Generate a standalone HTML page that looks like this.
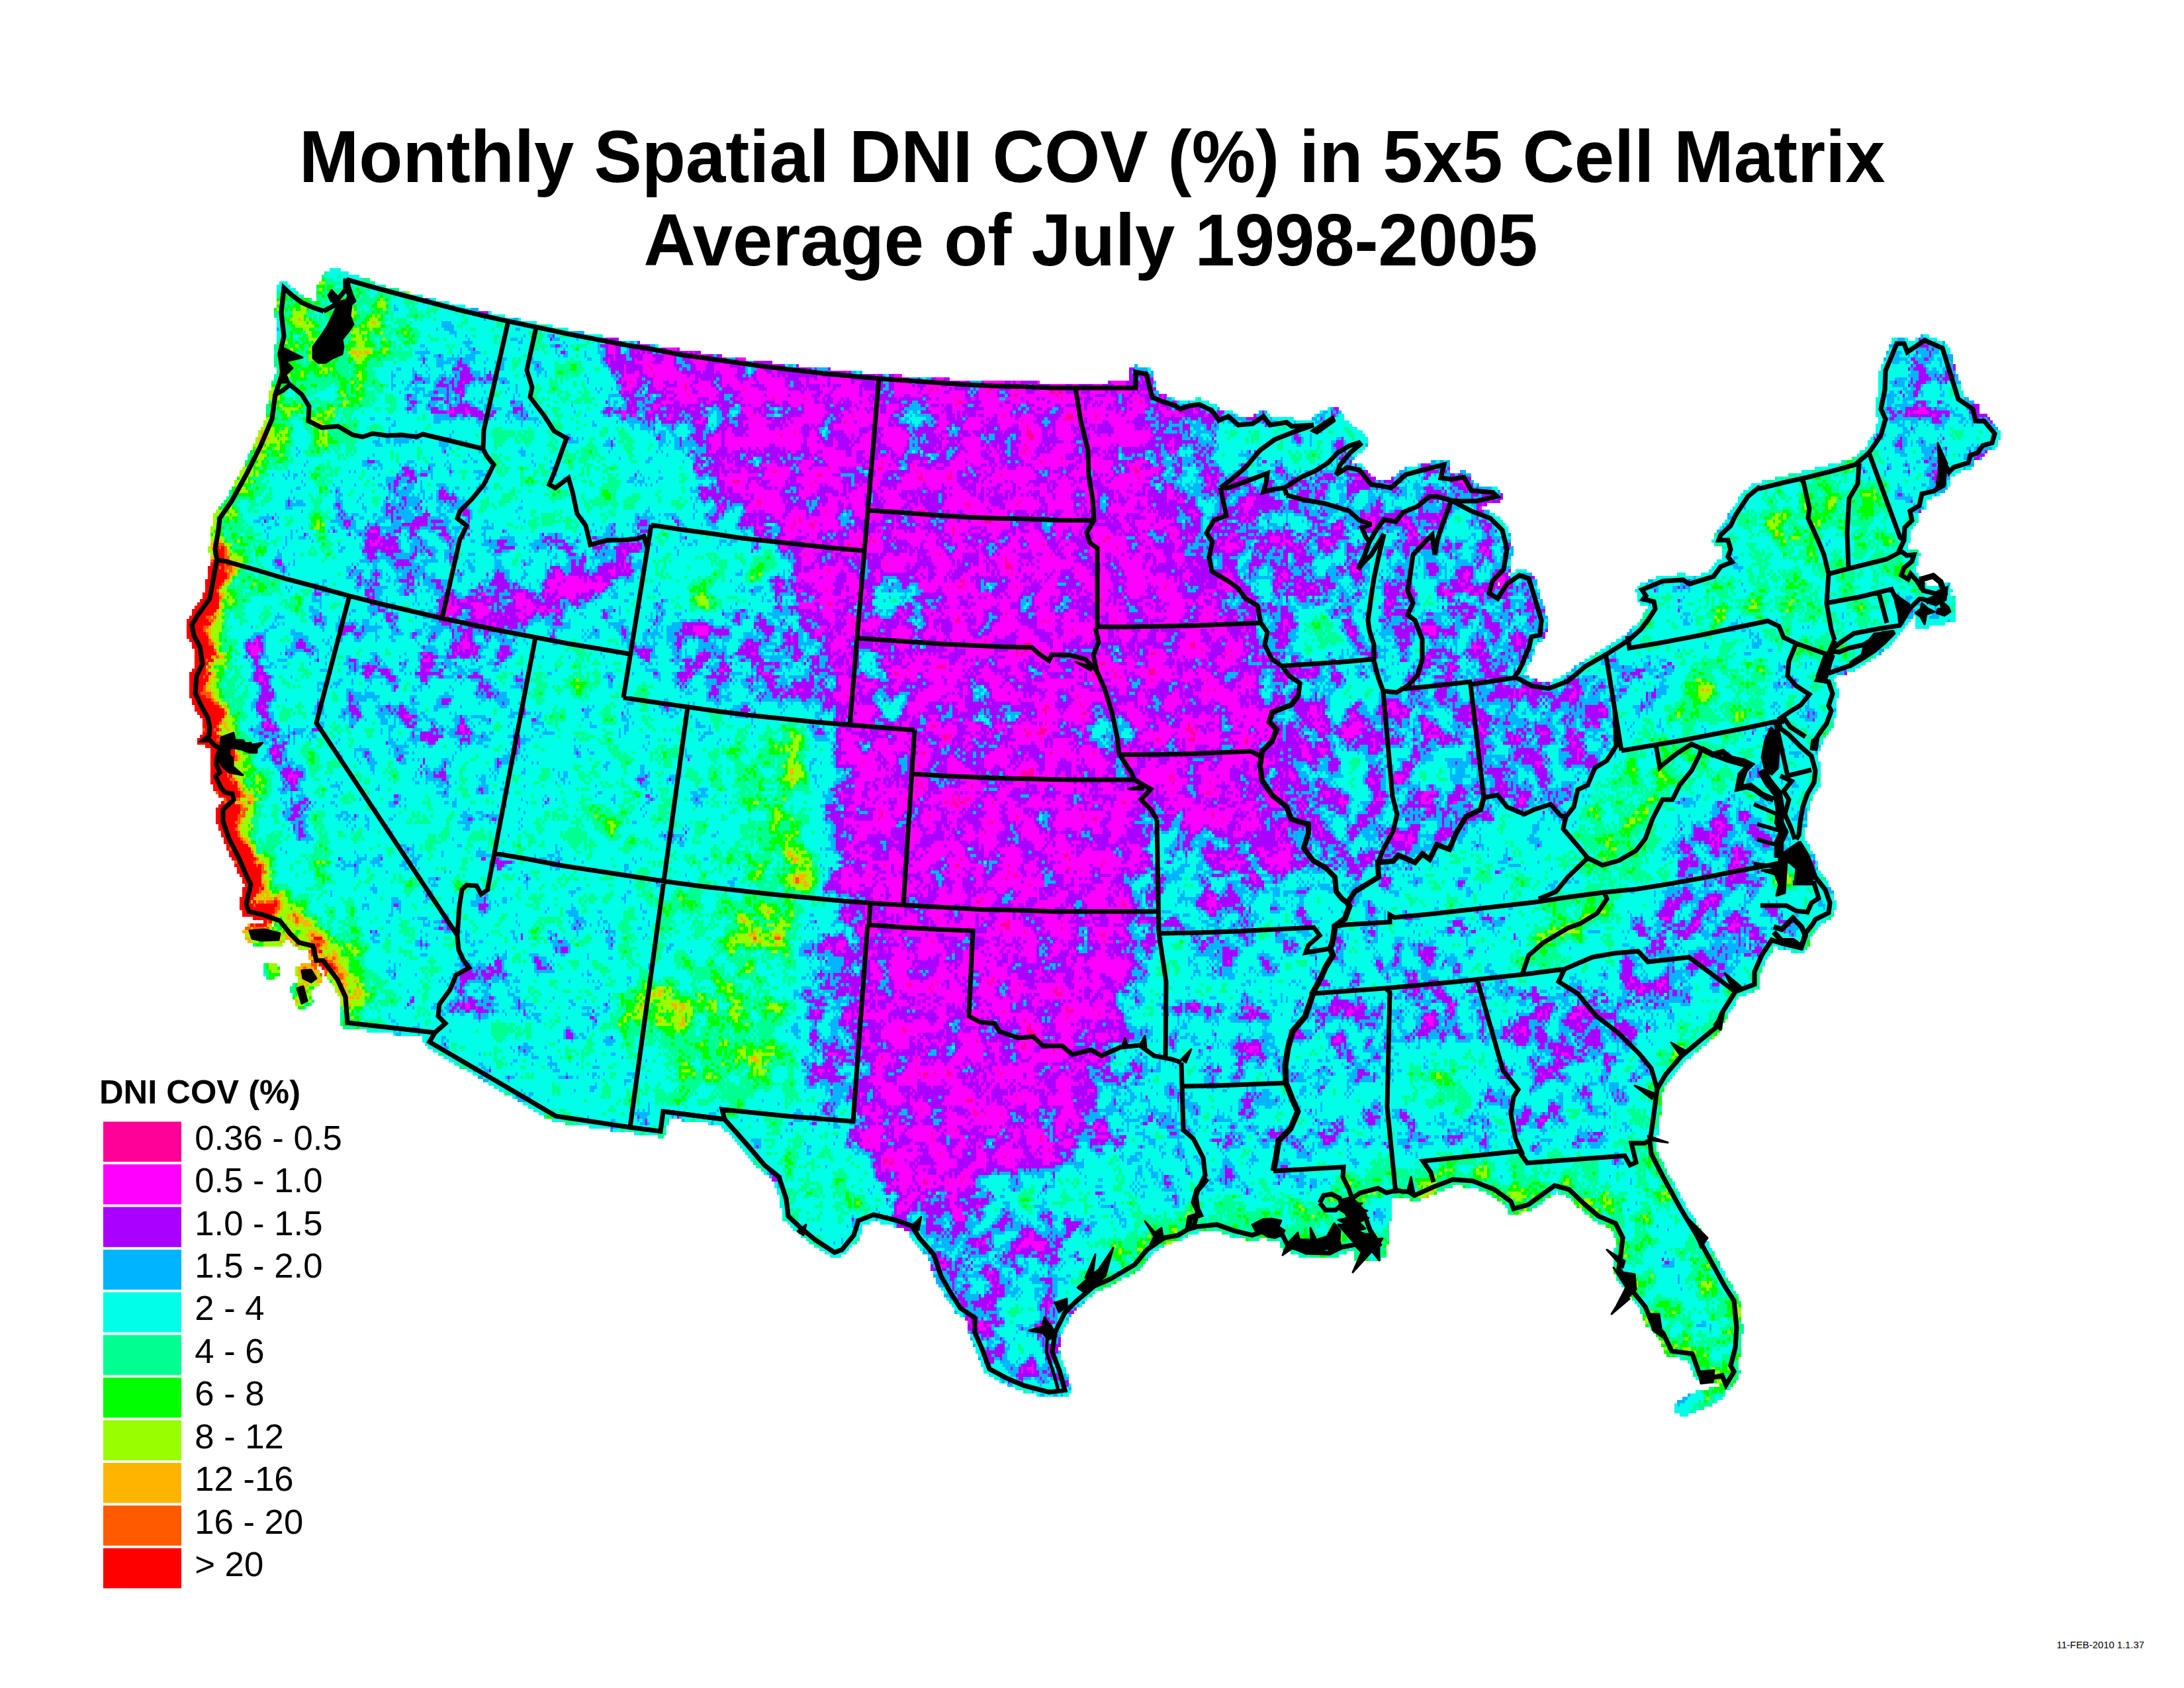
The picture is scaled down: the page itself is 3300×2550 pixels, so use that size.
<!DOCTYPE html>
<html><head><meta charset="utf-8"><title>Monthly Spatial DNI COV</title>
<style>html,body{margin:0;padding:0;background:#fff}svg{display:block}text{font-family:"Liberation Sans",sans-serif;fill:#000}</style></head>
<body>
<svg width="3300" height="2550" viewBox="0 0 3300 2550">
<defs>
<filter id="all" filterUnits="userSpaceOnUse" x="270" y="395" width="2772" height="1760" color-interpolation-filters="sRGB">
<feGaussianBlur in="SourceGraphic" stdDeviation="10" result="fb"/>
<feColorMatrix in="fb" type="matrix" values="1 0 0 0 0  1 0 0 0 0  1 0 0 0 0  0 0 0 0 1" result="f"/>
<feTurbulence x="270" y="395" width="1100" height="900" type="fractalNoise" baseFrequency="0.036 0.031" numOctaves="2" seed="7" stitchTiles="stitch"/><feColorMatrix type="matrix" values="1 0 0 0 0  1 0 0 0 0  1 0 0 0 0  0 0 0 0 1" result="t1a"/><feTile in="t1a" result="t1"/>
<feTurbulence x="270" y="395" width="500" height="400" type="fractalNoise" baseFrequency="0.23 0.19" numOctaves="1" seed="11" stitchTiles="stitch"/><feColorMatrix type="matrix" values="1 0 0 0 0  1 0 0 0 0  1 0 0 0 0  0 0 0 0 1" result="t2a"/><feTile in="t2a" result="t2"/>
<feComposite in="t1" in2="t2" operator="arithmetic" k1="0" k2="0.45" k3="0.24" k4="0" result="n"/>
<feComposite in="f" in2="n" operator="arithmetic" k1="0" k2="1" k3="1" k4="-0.345" result="v"/>
<feFlood x="272" y="397" width="1" height="1" flood-color="#000" result="dot"/>
<feComposite in="dot" in2="dot" operator="over" x="270" y="395" width="4" height="5" result="cell"/>
<feTile in="cell" result="grid"/>
<feColorMatrix in="SourceGraphic" type="matrix" values="0 0 0 0 0  0 0 0 0 0  0 0 0 0 0  0 0 1 0 0" result="m"/><feComposite in="v" in2="m" operator="in" result="vm"/><feComposite in="vm" in2="grid" operator="in" result="samp"/>
<feMorphology in="samp" operator="dilate" radius="2 2" result="pix"/>
<feComponentTransfer in="pix">
<feFuncR type="discrete" tableValues="1 1 1 1 1 1 1 1 1 1 1 1 1 1 1 1 0.667 0.667 0.667 0.667 0.667 0.667 0 0 0 0 0 0 0 0 0 0 0 0 0 0 0 0 0 0 0 0 0 0 0 0 0.6 0.6 0.6 0.6 0.6 0.6 1 1 1 1 1 1 1 1 1 1 1 1 1 1 1 1 1 1 1 1"/>
<feFuncG type="discrete" tableValues="0 0 0 0 0 0 0 0 0 0 0 0 0 0 0 0 0 0 0 0 0 0 0.706 0.706 0.706 0.706 1 1 1 1 1 1 1 1 1 1 1 1 1 1 1 1 1 1 1 1 1 1 1 1 1 1 0.706 0.706 0.706 0.706 0.353 0.353 0.353 0 0 0 0 0 0 0 0 0 0 0 0 0"/>
<feFuncB type="discrete" tableValues="0.6 0.6 0.6 0.6 0.6 0.6 1 1 1 1 1 1 1 1 1 1 1 1 1 1 1 1 1 1 1 1 0.902 0.902 0.902 0.902 0.902 0.902 0.902 0.902 0.902 0.902 0.565 0.565 0.565 0.565 0.565 0.565 0 0 0 0 0 0 0 0 0 0 0 0 0 0 0 0 0 0 0 0 0 0 0 0 0 0 0 0 0 0"/>
<feFuncA type="discrete" tableValues="0 1"/>
</feComponentTransfer>
</filter>
</defs>
<rect width="3300" height="2550" fill="#fff"/>
<g filter="url(#all)">
<rect x="100" y="250" width="3100" height="2050" fill="#6e6e00"/>
<polygon points="930,528 944,586 999,614 1060,668 1095,703 1074,730 1129,765 1170,820 1198,875 1212,929 1225,998 1239,1067 1253,1170 1246,1273 1260,1342 1280,1396 1239,1451 1225,1548 1692,1548 1750,1342 1750,586 1321,572" fill="#353500" stroke="#353500" stroke-width="90" stroke-opacity=".35" stroke-linejoin="round"/><polygon points="930,528 944,586 999,614 1060,668 1095,703 1074,730 1129,765 1170,820 1198,875 1212,929 1225,998 1239,1067 1253,1170 1246,1273 1260,1342 1280,1396 1239,1451 1225,1548 1692,1548 1750,1342 1750,586 1321,572" fill="none" stroke="#353500" stroke-width="40" stroke-opacity=".45" stroke-linejoin="round"/>
<polygon points="1559,569 1689,583 1758,652 1779,755 1827,837 1889,920 1923,1002 1957,1098 1944,1167 1957,1236 1971,1291 1909,1360 1806,1394 1751,1408 1748,1579 1559,1579" fill="#353500" stroke="#353500" stroke-width="90" stroke-opacity=".35" stroke-linejoin="round"/><polygon points="1559,569 1689,583 1758,652 1779,755 1827,837 1889,920 1923,1002 1957,1098 1944,1167 1957,1236 1971,1291 1909,1360 1806,1394 1751,1408 1748,1579 1559,1579" fill="none" stroke="#353500" stroke-width="40" stroke-opacity=".45" stroke-linejoin="round"/>
<polygon points="1311,1347 1763,1347 1759,1495 1724,1557 1771,1611 1747,1674 1685,1736 1646,1798 1607,1845 1545,1868 1483,1860 1436,1892 1389,1845 1366,1806 1296,1736 1311,1674 1296,1534" fill="#353500" stroke="#353500" stroke-width="90" stroke-opacity=".35" stroke-linejoin="round"/><polygon points="1311,1347 1763,1347 1759,1495 1724,1557 1771,1611 1747,1674 1685,1736 1646,1798 1607,1845 1545,1868 1483,1860 1436,1892 1389,1845 1366,1806 1296,1736 1311,1674 1296,1534" fill="none" stroke="#353500" stroke-width="40" stroke-opacity=".45" stroke-linejoin="round"/>
<polygon points="992,943 1109,929 1212,929 1239,1067 1163,1074 1074,1067 1005,1060 971,1019" fill="#535300" stroke="#535300" stroke-width="90" stroke-opacity=".35" stroke-linejoin="round"/><polygon points="992,943 1109,929 1212,929 1239,1067 1163,1074 1074,1067 1005,1060 971,1019" fill="none" stroke="#535300" stroke-width="40" stroke-opacity=".45" stroke-linejoin="round"/>
<polygon points="456,696 690,703 745,792 937,826 964,861 937,943 799,998 758,1067 662,1170 559,1101 477,964 449,826" fill="#616100" stroke="#616100" stroke-width="90" stroke-opacity=".35" stroke-linejoin="round"/><polygon points="456,696 690,703 745,792 937,826 964,861 937,943 799,998 758,1067 662,1170 559,1101 477,964 449,826" fill="none" stroke="#616100" stroke-width="40" stroke-opacity=".45" stroke-linejoin="round"/>
<polygon points="1420,1845 1607,1845 1623,1923 1592,2078 1514,2078 1451,1969" fill="#555500" stroke="#555500" stroke-width="90" stroke-opacity=".35" stroke-linejoin="round"/><polygon points="1420,1845 1607,1845 1623,1923 1592,2078 1514,2078 1451,1969" fill="none" stroke="#555500" stroke-width="40" stroke-opacity=".45" stroke-linejoin="round"/>
<polygon points="1685,1596 1810,1596 1810,1845 1747,1845 1669,1767" fill="#5e5e00" stroke="#5e5e00" stroke-width="90" stroke-opacity=".35" stroke-linejoin="round"/><polygon points="1685,1596 1810,1596 1810,1845 1747,1845 1669,1767" fill="none" stroke="#5e5e00" stroke-width="40" stroke-opacity=".45" stroke-linejoin="round"/>
<polygon points="1758,652 1889,638 1985,707 2218,707 2322,865 2328,961 2287,1030 2425,1030 2445,1098 2390,1202 2287,1236 2218,1250 2136,1305 2040,1339 1971,1291 1957,1236 1944,1167 1957,1098 1923,1002 1889,920 1827,837 1779,755" fill="#505000" stroke="#505000" stroke-width="90" stroke-opacity=".35" stroke-linejoin="round"/><polygon points="1758,652 1889,638 1985,707 2218,707 2322,865 2328,961 2287,1030 2425,1030 2445,1098 2390,1202 2287,1236 2218,1250 2136,1305 2040,1339 1971,1291 1957,1236 1944,1167 1957,1098 1923,1002 1889,920 1827,837 1779,755" fill="none" stroke="#505000" stroke-width="40" stroke-opacity=".45" stroke-linejoin="round"/>
<polygon points="1751,1270 1909,1360 2040,1339 2081,1428 2287,1408 2493,1360 2672,1339 2713,1394 2631,1511 2493,1579 2287,1648 1751,1648" fill="#636300" stroke="#636300" stroke-width="90" stroke-opacity=".35" stroke-linejoin="round"/><polygon points="1751,1270 1909,1360 2040,1339 2081,1428 2287,1408 2493,1360 2672,1339 2713,1394 2631,1511 2493,1579 2287,1648 1751,1648" fill="none" stroke="#636300" stroke-width="40" stroke-opacity=".45" stroke-linejoin="round"/>
<polygon points="1778,1378 2012,1378 2479,1347 2635,1331 2619,1456 2526,1611 2479,1705 2323,1736 2105,1767 1934,1767 1802,1798" fill="#636300" stroke="#636300" stroke-width="90" stroke-opacity=".35" stroke-linejoin="round"/><polygon points="1778,1378 2012,1378 2479,1347 2635,1331 2619,1456 2526,1611 2479,1705 2323,1736 2105,1767 1934,1767 1802,1798" fill="none" stroke="#636300" stroke-width="40" stroke-opacity=".45" stroke-linejoin="round"/>
<polygon points="2294,1442 2356,1360 2411,1291 2445,1202 2466,1119 2493,1071 2562,1002 2631,920 2672,769 2734,707 2837,707 2871,789 2857,865 2768,961 2727,1030 2631,1085 2576,1167 2528,1236 2480,1325 2425,1394 2356,1456" fill="#808000" stroke="#808000" stroke-width="90" stroke-opacity=".35" stroke-linejoin="round"/><polygon points="2294,1442 2356,1360 2411,1291 2445,1202 2466,1119 2493,1071 2562,1002 2631,920 2672,769 2734,707 2837,707 2871,789 2857,865 2768,961 2727,1030 2631,1085 2576,1167 2528,1236 2480,1325 2425,1394 2356,1456" fill="none" stroke="#808000" stroke-width="40" stroke-opacity=".45" stroke-linejoin="round"/>
<polygon points="2837,521 2947,521 3016,652 2906,755 2857,707 2830,617" fill="#616100" stroke="#616100" stroke-width="90" stroke-opacity=".35" stroke-linejoin="round"/><polygon points="2837,521 2947,521 3016,652 2906,755 2857,707 2830,617" fill="none" stroke="#616100" stroke-width="40" stroke-opacity=".45" stroke-linejoin="round"/>
<polygon points="820,984 944,998 1033,1081 1232,1108 1239,1342 1266,1410 1212,1548 937,1548 868,1410 786,1307 799,1135" fill="#717100" stroke="#717100" stroke-width="90" stroke-opacity=".35" stroke-linejoin="round"/><polygon points="820,984 944,998 1033,1081 1232,1108 1239,1342 1266,1410 1212,1548 937,1548 868,1410 786,1307 799,1135" fill="none" stroke="#717100" stroke-width="40" stroke-opacity=".45" stroke-linejoin="round"/>
<polygon points="961,1316 1210,1331 1234,1534 1210,1666 1078,1674 961,1666" fill="#777700" stroke="#777700" stroke-width="90" stroke-opacity=".35" stroke-linejoin="round"/><polygon points="961,1316 1210,1331 1234,1534 1210,1666 1078,1674 961,1666" fill="none" stroke="#777700" stroke-width="40" stroke-opacity=".45" stroke-linejoin="round"/>
<polygon points="429,435 573,442 593,517 559,600 511,655 456,668 422,607 415,517" fill="#878700" stroke="#878700" stroke-width="90" stroke-opacity=".35" stroke-linejoin="round"/><polygon points="429,435 573,442 593,517 559,600 511,655 456,668 422,607 415,517" fill="none" stroke="#878700" stroke-width="40" stroke-opacity=".45" stroke-linejoin="round"/>
<polyline points="522,1506 510,1480 488,1451 478,1451 473,1429 452,1424 438,1410 423,1391 398,1382 376,1377 372,1366 379,1336 372,1322 361,1296 346,1267 337,1241 337,1223 353,1208 351,1199 340,1197 334,1190 326,1173 332,1167 327,1155 328,1143 333,1131 324,1126 317,1118 308,1118 316,1111 317,1099 314,1084 305,1068 295,1047 297,1021 306,1003 302,977 293,960 290,944 299,929 317,904 325,860 328,846" fill="none" stroke="#888800" stroke-width="154" stroke-opacity=".4" stroke-linecap="round" stroke-linejoin="round"/>
<polyline points="522,1506 510,1480 488,1451 478,1451 473,1429 452,1424 438,1410 423,1391 398,1382 376,1377 372,1366 379,1336 372,1322 361,1296 346,1267 337,1241 337,1223 353,1208 351,1199 340,1197 334,1190 326,1173 332,1167 327,1155 328,1143 333,1131 324,1126 317,1118 308,1118 316,1111 317,1099 314,1084 305,1068 295,1047 297,1021 306,1003 302,977 293,960 290,944 299,929 317,904 325,860 328,846" fill="none" stroke="#888800" stroke-width="110" stroke-linecap="round" stroke-linejoin="round"/>
<polyline points="325,830 330,801 332,783 350,757 372,717 394,673 411,633 416,596" fill="none" stroke="#8a8a00" stroke-width="98" stroke-opacity=".4" stroke-linecap="round" stroke-linejoin="round"/>
<polyline points="325,830 330,801 332,783 350,757 372,717 394,673 411,633 416,596" fill="none" stroke="#8a8a00" stroke-width="70" stroke-linecap="round" stroke-linejoin="round"/>
<polyline points="2128,1800 2119,1800 2110,1798 2095,1802 2082,1795 2055,1802 2042,1811 2060,1830 2070,1858 2084,1880 2063,1895 2049,1880 2027,1884 2009,1893 1974,1892 1945,1880 1938,1866 1906,1861 1892,1866 1864,1859 1839,1850 1809,1853 1795,1857 1780,1866 1759,1870 1733,1888 1715,1910 1678,1932 1653,1943" fill="none" stroke="#8a8a00" stroke-width="98" stroke-opacity=".4" stroke-linecap="round" stroke-linejoin="round"/>
<polyline points="2128,1800 2119,1800 2110,1798 2095,1802 2082,1795 2055,1802 2042,1811 2060,1830 2070,1858 2084,1880 2063,1895 2049,1880 2027,1884 2009,1893 1974,1892 1945,1880 1938,1866 1906,1861 1892,1866 1864,1859 1839,1850 1809,1853 1795,1857 1780,1866 1759,1870 1733,1888 1715,1910 1678,1932 1653,1943" fill="none" stroke="#8a8a00" stroke-width="70" stroke-linecap="round" stroke-linejoin="round"/>
<polyline points="2495,1743 2513,1778 2540,1827 2562,1863 2584,1903 2606,1943 2620,1965 2624,2005 2622,2036 2615,2063 2620,2072 2608,2092 2602,2078 2584,2082 2568,2076 2557,2045 2526,2041 2513,2014 2495,1996 2486,1974 2464,1947 2446,1916 2448,1903 2452,1870 2441,1848 2415,1837 2393,1818 2371,1797 2349,1791 2331,1804 2309,1820 2287,1826 2283,1815 2258,1797 2225,1784 2195,1782 2166,1793 2137,1806" fill="none" stroke="#8a8a00" stroke-width="98" stroke-opacity=".4" stroke-linecap="round" stroke-linejoin="round"/>
<polyline points="2495,1743 2513,1778 2540,1827 2562,1863 2584,1903 2606,1943 2620,1965 2624,2005 2622,2036 2615,2063 2620,2072 2608,2092 2602,2078 2584,2082 2568,2076 2557,2045 2526,2041 2513,2014 2495,1996 2486,1974 2464,1947 2446,1916 2448,1903 2452,1870 2441,1848 2415,1837 2393,1818 2371,1797 2349,1791 2331,1804 2309,1820 2287,1826 2283,1815 2258,1797 2225,1784 2195,1782 2166,1793 2137,1806" fill="none" stroke="#8a8a00" stroke-width="70" stroke-linecap="round" stroke-linejoin="round"/>
<polyline points="2602,1530 2593,1552 2571,1570 2540,1596 2517,1623 2504,1645 2498,1690 2493,1725 2721,1432 2692,1425 2677,1420 2662,1443 2651,1468 2651,1487 2622,1498" fill="none" stroke="#878700" stroke-width="56" stroke-opacity=".4" stroke-linecap="round" stroke-linejoin="round"/>
<polyline points="2602,1530 2593,1552 2571,1570 2540,1596 2517,1623 2504,1645 2498,1690 2493,1725 2721,1432 2692,1425 2677,1420 2662,1443 2651,1468 2651,1487 2622,1498" fill="none" stroke="#878700" stroke-width="40" stroke-linecap="round" stroke-linejoin="round"/>
<ellipse cx="456" cy="497" rx="40" ry="66" fill="#9e9e00" opacity=".5"/><ellipse cx="456" cy="497" rx="23" ry="41" fill="#9e9e00"/>
<polyline points="573,456 559,517 545,572 521,614 501,668" fill="none" stroke="#9e9e00" stroke-width="34" stroke-linecap="round" stroke-linejoin="round"/>
<polyline points="501,668 487,723 480,792" fill="none" stroke="#8a8a00" stroke-width="27" stroke-linecap="round" stroke-linejoin="round"/>
<polyline points="562,483 552,545" fill="none" stroke="#b1b100" stroke-width="11" stroke-linecap="round" stroke-linejoin="round"/>
<ellipse cx="676" cy="579" rx="80" ry="58" fill="#4c4c00" opacity=".5"/><ellipse cx="676" cy="579" rx="50" ry="35" fill="#4c4c00"/>
<ellipse cx="635" cy="497" rx="58" ry="40" fill="#808000" opacity=".5"/><ellipse cx="635" cy="497" rx="35" ry="23" fill="#808000"/>
<polyline points="416,596 411,633 394,673 372,717 350,757 332,783 327,815 327,846" fill="none" stroke="#aaaa00" stroke-width="26" stroke-linecap="round" stroke-linejoin="round"/>
<ellipse cx="497" cy="833" rx="40" ry="35" fill="#989800" opacity=".5"/><ellipse cx="497" cy="833" rx="23" ry="20" fill="#989800"/>
<ellipse cx="490" cy="655" rx="31" ry="31" fill="#9c9c00" opacity=".5"/><ellipse cx="490" cy="655" rx="18" ry="18" fill="#9c9c00"/>
<ellipse cx="593" cy="806" rx="102" ry="84" fill="#515100" opacity=".5"/><ellipse cx="593" cy="806" rx="64" ry="53" fill="#515100"/>
<ellipse cx="676" cy="765" rx="49" ry="58" fill="#5c5c00" opacity=".5"/><ellipse cx="676" cy="765" rx="29" ry="35" fill="#5c5c00"/>
<ellipse cx="545" cy="737" rx="40" ry="40" fill="#717100" opacity=".5"/><ellipse cx="545" cy="737" rx="23" ry="23" fill="#717100"/>
<polyline points="690,923 772,923 854,892 937,854 964,830" fill="none" stroke="#393900" stroke-width="55" stroke-linecap="round" stroke-linejoin="round"/>
<ellipse cx="799" cy="737" rx="84" ry="75" fill="#7a7a00" opacity=".5"/><ellipse cx="799" cy="737" rx="53" ry="47" fill="#7a7a00"/>
<ellipse cx="758" cy="607" rx="35" ry="40" fill="#595900" opacity=".5"/><ellipse cx="758" cy="607" rx="20" ry="23" fill="#595900"/>
<ellipse cx="868" cy="607" rx="66" ry="84" fill="#787800" opacity=".5"/><ellipse cx="868" cy="607" rx="41" ry="53" fill="#787800"/>
<ellipse cx="909" cy="737" rx="49" ry="49" fill="#808000" opacity=".5"/><ellipse cx="909" cy="737" rx="29" ry="29" fill="#808000"/>
<polyline points="1012,668 1060,648 1095,620" fill="none" stroke="#636300" stroke-width="27" stroke-linecap="round" stroke-linejoin="round"/>
<ellipse cx="1005" cy="765" rx="49" ry="40" fill="#6a6a00" opacity=".5"/><ellipse cx="1005" cy="765" rx="29" ry="23" fill="#6a6a00"/>
<ellipse cx="1060" cy="861" rx="120" ry="66" fill="#757500" opacity=".5"/><ellipse cx="1060" cy="861" rx="76" ry="41" fill="#757500"/>
<ellipse cx="1157" cy="854" rx="26" ry="31" fill="#959500" opacity=".5"/><ellipse cx="1157" cy="854" rx="15" ry="18" fill="#959500"/>
<ellipse cx="1060" cy="902" rx="40" ry="31" fill="#8e8e00" opacity=".5"/><ellipse cx="1060" cy="902" rx="23" ry="18" fill="#8e8e00"/>
<ellipse cx="1356" cy="902" rx="44" ry="40" fill="#676700" opacity=".5"/><ellipse cx="1356" cy="902" rx="26" ry="23" fill="#676700"/>
<ellipse cx="1342" cy="1067" rx="31" ry="31" fill="#636300" opacity=".5"/><ellipse cx="1342" cy="1067" rx="18" ry="18" fill="#636300"/>
<ellipse cx="1383" cy="641" rx="26" ry="58" fill="#595900" opacity=".5"/><ellipse cx="1383" cy="641" rx="15" ry="35" fill="#595900"/>
<ellipse cx="1486" cy="1094" rx="22" ry="58" fill="#595900" opacity=".5"/><ellipse cx="1486" cy="1094" rx="12" ry="35" fill="#595900"/>
<ellipse cx="1679" cy="1101" rx="40" ry="40" fill="#595900" opacity=".5"/><ellipse cx="1679" cy="1101" rx="23" ry="23" fill="#595900"/>
<ellipse cx="1321" cy="998" rx="26" ry="26" fill="#636300" opacity=".5"/><ellipse cx="1321" cy="998" rx="15" ry="15" fill="#636300"/>
<polyline points="522,1506 510,1480 488,1451 478,1451 473,1429 452,1424 438,1410 423,1391 398,1382 376,1377 372,1366 379,1336 372,1322 361,1296 346,1267 337,1241 337,1223 353,1208 351,1199 340,1197 334,1190 326,1173 332,1167 327,1155 328,1143 333,1131 324,1126 317,1118 308,1118 316,1111 317,1099 314,1084 305,1068 295,1047 297,1021 306,1003 302,977 293,960 290,944 299,929 317,904 325,860 328,846" fill="none" stroke="#a6a600" stroke-width="70" stroke-linecap="round" stroke-linejoin="round"/>
<polyline points="522,1506 510,1480 488,1451 478,1451 473,1429 452,1424 438,1410 423,1391 398,1382 376,1377" fill="none" stroke="#bcbc00" stroke-width="50" stroke-linecap="round" stroke-linejoin="round"/>
<polyline points="398,1382 376,1377 372,1366 379,1336 372,1322 361,1296 346,1267 337,1241 337,1223 353,1208 351,1199 340,1197 334,1190 326,1173 332,1167 327,1155 328,1143 333,1131 324,1126 317,1118 308,1118 316,1111 317,1099 314,1084 305,1068 295,1047 297,1021 306,1003 302,977 293,960 290,944 299,929 317,904 325,860 328,846" fill="none" stroke="#c6c600" stroke-width="44" stroke-linecap="round" stroke-linejoin="round"/>
<polyline points="398,1382 376,1377 372,1366 379,1336 372,1322 361,1296 346,1267 337,1241 337,1223 353,1208 351,1199 340,1197 334,1190 326,1173 332,1167 327,1155 328,1143 333,1131 324,1126 317,1118 308,1118 316,1111 317,1099 314,1084 305,1068 295,1047 297,1021 306,1003 302,977 293,960 290,944 299,929 317,904 325,860 328,846" fill="none" stroke="#eaea00" stroke-width="30" stroke-linecap="round" stroke-linejoin="round"/>
<polyline points="392,1382 370,1377 366,1366 373,1336 366,1322 355,1296 340,1267 331,1241 331,1223 347,1208 345,1199 334,1197 328,1190 320,1173 326,1167 321,1155 322,1143 327,1131 318,1126 311,1118 302,1118 310,1111 311,1099 308,1084 299,1068 289,1047 291,1021 300,1003 296,977 287,960 284,944 293,929 311,904 319,860 322,846" fill="none" stroke="#fbfb00" stroke-width="18" stroke-linecap="round" stroke-linejoin="round"/>
<polyline points="384,957 396,1067 422,1135 453,1225" fill="none" stroke="#434300" stroke-width="31" stroke-linecap="round" stroke-linejoin="round"/>
<ellipse cx="453" cy="1266" rx="24" ry="31" fill="#4e4e00" opacity=".5"/><ellipse cx="453" cy="1266" rx="13" ry="18" fill="#4e4e00"/>
<ellipse cx="487" cy="1287" rx="22" ry="40" fill="#959500" opacity=".5"/><ellipse cx="487" cy="1287" rx="12" ry="23" fill="#959500"/>
<ellipse cx="477" cy="1149" rx="26" ry="49" fill="#8a8a00" opacity=".5"/><ellipse cx="477" cy="1149" rx="15" ry="29" fill="#8a8a00"/>
<ellipse cx="422" cy="895" rx="49" ry="40" fill="#7c7c00" opacity=".5"/><ellipse cx="422" cy="895" rx="29" ry="23" fill="#7c7c00"/>
<ellipse cx="690" cy="978" rx="75" ry="49" fill="#515100" opacity=".5"/><ellipse cx="690" cy="978" rx="47" ry="29" fill="#515100"/>
<ellipse cx="635" cy="1094" rx="58" ry="49" fill="#595900" opacity=".5"/><ellipse cx="635" cy="1094" rx="35" ry="29" fill="#595900"/>
<ellipse cx="772" cy="1135" rx="40" ry="138" fill="#636300" opacity=".5"/><ellipse cx="772" cy="1135" rx="23" ry="88" fill="#636300"/>
<ellipse cx="875" cy="1019" rx="26" ry="26" fill="#9f9f00" opacity=".5"/><ellipse cx="875" cy="1019" rx="15" ry="15" fill="#9f9f00"/>
<ellipse cx="896" cy="1239" rx="58" ry="49" fill="#8a8a00" opacity=".5"/><ellipse cx="896" cy="1239" rx="35" ry="29" fill="#8a8a00"/>
<polyline points="1198,1109 1200,1168 1178,1223 1160,1262 1186,1280 1211,1296 1219,1335" fill="none" stroke="#b6b600" stroke-width="30" stroke-linecap="round" stroke-linejoin="round"/>
<polyline points="1200,1125 1200,1168" fill="none" stroke="#c6c600" stroke-width="12" stroke-linecap="round" stroke-linejoin="round"/>
<ellipse cx="1180" cy="1275" rx="50" ry="56" fill="#aaaa00" opacity=".5"/><ellipse cx="1180" cy="1275" rx="30" ry="34" fill="#aaaa00"/>
<ellipse cx="1150" cy="1225" rx="58" ry="138" fill="#8a8a00" opacity=".5"/><ellipse cx="1150" cy="1225" rx="35" ry="88" fill="#8a8a00"/>
<ellipse cx="1067" cy="1204" rx="49" ry="111" fill="#757500" opacity=".5"/><ellipse cx="1067" cy="1204" rx="29" ry="70" fill="#757500"/>
<ellipse cx="1122" cy="1410" rx="31" ry="31" fill="#bcbc00" opacity=".5"/><ellipse cx="1122" cy="1410" rx="18" ry="18" fill="#bcbc00"/>
<ellipse cx="1177" cy="1418" rx="29" ry="29" fill="#bfbf00" opacity=".5"/><ellipse cx="1177" cy="1418" rx="16" ry="16" fill="#bfbf00"/>
<ellipse cx="1150" cy="1390" rx="58" ry="40" fill="#a6a600" opacity=".5"/><ellipse cx="1150" cy="1390" rx="35" ry="23" fill="#a6a600"/>
<ellipse cx="957" cy="1527" rx="35" ry="26" fill="#bcbc00" opacity=".5"/><ellipse cx="957" cy="1527" rx="20" ry="15" fill="#bcbc00"/>
<ellipse cx="1005" cy="1506" rx="31" ry="26" fill="#aeae00" opacity=".5"/><ellipse cx="1005" cy="1506" rx="18" ry="15" fill="#aeae00"/>
<ellipse cx="1023" cy="1537" rx="42" ry="44" fill="#bcbc00" opacity=".5"/><ellipse cx="1023" cy="1537" rx="25" ry="26" fill="#bcbc00"/>
<ellipse cx="1148" cy="1596" rx="29" ry="60" fill="#aeae00" opacity=".5"/><ellipse cx="1148" cy="1596" rx="17" ry="36" fill="#aeae00"/>
<ellipse cx="1101" cy="1557" rx="105" ry="115" fill="#919100" opacity=".5"/><ellipse cx="1101" cy="1557" rx="66" ry="73" fill="#919100"/>
<ellipse cx="1039" cy="1362" rx="44" ry="34" fill="#878700" opacity=".5"/><ellipse cx="1039" cy="1362" rx="26" ry="20" fill="#878700"/>
<ellipse cx="1257" cy="1534" rx="60" ry="196" fill="#4e4e00" opacity=".5"/><ellipse cx="1257" cy="1534" rx="36" ry="126" fill="#4e4e00"/>
<ellipse cx="724" cy="1486" rx="62" ry="49" fill="#4c4c00" opacity=".5"/><ellipse cx="724" cy="1486" rx="38" ry="29" fill="#4c4c00"/>
<ellipse cx="841" cy="1451" rx="35" ry="31" fill="#5c5c00" opacity=".5"/><ellipse cx="841" cy="1451" rx="20" ry="18" fill="#5c5c00"/>
<ellipse cx="909" cy="1396" rx="26" ry="26" fill="#595900" opacity=".5"/><ellipse cx="909" cy="1396" rx="15" ry="15" fill="#595900"/>
<ellipse cx="1195" cy="1783" rx="125" ry="115" fill="#737300" opacity=".5"/><ellipse cx="1195" cy="1783" rx="79" ry="73" fill="#737300"/>
<ellipse cx="1257" cy="1798" rx="65" ry="44" fill="#878700" opacity=".5"/><ellipse cx="1257" cy="1798" rx="40" ry="26" fill="#878700"/>
<ellipse cx="1576" cy="1880" rx="50" ry="44" fill="#494900" opacity=".5"/><ellipse cx="1576" cy="1880" rx="30" ry="26" fill="#494900"/>
<ellipse cx="1483" cy="1962" rx="44" ry="55" fill="#4a4a00" opacity=".5"/><ellipse cx="1483" cy="1962" rx="26" ry="33" fill="#4a4a00"/>
<ellipse cx="1545" cy="2001" rx="24" ry="65" fill="#757500" opacity=".5"/><ellipse cx="1545" cy="2001" rx="13" ry="40" fill="#757500"/>
<ellipse cx="1724" cy="1526" rx="39" ry="50" fill="#6e6e00" opacity=".5"/><ellipse cx="1724" cy="1526" rx="23" ry="30" fill="#6e6e00"/>
<ellipse cx="1662" cy="1798" rx="95" ry="75" fill="#707000" opacity=".5"/><ellipse cx="1662" cy="1798" rx="60" ry="46" fill="#707000"/>
<ellipse cx="1545" cy="1806" rx="75" ry="44" fill="#6e6e00" opacity=".5"/><ellipse cx="1545" cy="1806" rx="46" ry="26" fill="#6e6e00"/>
<ellipse cx="1880" cy="1572" rx="44" ry="50" fill="#4c4c00" opacity=".5"/><ellipse cx="1880" cy="1572" rx="26" ry="30" fill="#4c4c00"/>
<ellipse cx="1841" cy="1432" rx="50" ry="34" fill="#4e4e00" opacity=".5"/><ellipse cx="1841" cy="1432" rx="30" ry="20" fill="#4e4e00"/>
<ellipse cx="1895" cy="1689" rx="44" ry="34" fill="#595900" opacity=".5"/><ellipse cx="1895" cy="1689" rx="26" ry="20" fill="#595900"/>
<ellipse cx="1950" cy="1837" rx="75" ry="29" fill="#8e8e00" opacity=".5"/><ellipse cx="1950" cy="1837" rx="46" ry="17" fill="#8e8e00"/>
<ellipse cx="2047" cy="1557" rx="44" ry="65" fill="#505000" opacity=".5"/><ellipse cx="2047" cy="1557" rx="26" ry="40" fill="#505000"/>
<ellipse cx="2004" cy="1720" rx="39" ry="34" fill="#595900" opacity=".5"/><ellipse cx="2004" cy="1720" rx="23" ry="20" fill="#595900"/>
<ellipse cx="2168" cy="1526" rx="65" ry="55" fill="#4e4e00" opacity=".5"/><ellipse cx="2168" cy="1526" rx="40" ry="33" fill="#4e4e00"/>
<ellipse cx="2183" cy="1642" rx="50" ry="65" fill="#8a8a00" opacity=".5"/><ellipse cx="2183" cy="1642" rx="30" ry="40" fill="#8a8a00"/>
<ellipse cx="2214" cy="1705" rx="44" ry="29" fill="#595900" opacity=".5"/><ellipse cx="2214" cy="1705" rx="26" ry="17" fill="#595900"/>
<ellipse cx="2362" cy="1557" rx="100" ry="75" fill="#4a4a00" opacity=".5"/><ellipse cx="2362" cy="1557" rx="63" ry="46" fill="#4a4a00"/>
<ellipse cx="2323" cy="1666" rx="44" ry="34" fill="#595900" opacity=".5"/><ellipse cx="2323" cy="1666" rx="26" ry="20" fill="#595900"/>
<ellipse cx="2409" cy="1650" rx="44" ry="34" fill="#595900" opacity=".5"/><ellipse cx="2409" cy="1650" rx="26" ry="20" fill="#595900"/>
<ellipse cx="2479" cy="1495" rx="60" ry="50" fill="#4e4e00" opacity=".5"/><ellipse cx="2479" cy="1495" rx="36" ry="30" fill="#4e4e00"/>
<ellipse cx="2152" cy="1456" rx="50" ry="29" fill="#515100" opacity=".5"/><ellipse cx="2152" cy="1456" rx="30" ry="17" fill="#515100"/>
<polyline points="2315,1440 2370,1401 2424,1374" fill="none" stroke="#a6a600" stroke-width="23" stroke-linecap="round" stroke-linejoin="round"/>
<ellipse cx="2339" cy="1425" rx="20" ry="14" fill="#bfbf00" opacity=".5"/><ellipse cx="2339" cy="1425" rx="11" ry="7" fill="#bfbf00"/>
<ellipse cx="2549" cy="1370" rx="95" ry="44" fill="#505000" opacity=".5"/><ellipse cx="2549" cy="1370" rx="60" ry="26" fill="#505000"/>
<ellipse cx="2518" cy="1860" rx="34" ry="44" fill="#636300" opacity=".5"/><ellipse cx="2518" cy="1860" rx="20" ry="26" fill="#636300"/>
<polyline points="2136,1806 2214,1783 2277,1798 2323,1814" fill="none" stroke="#a6a600" stroke-width="17" stroke-linecap="round" stroke-linejoin="round"/>
<ellipse cx="1916" cy="679" rx="84" ry="44" fill="#6e6e00" opacity=".5"/><ellipse cx="1916" cy="679" rx="53" ry="26" fill="#6e6e00"/>
<ellipse cx="1944" cy="686" rx="84" ry="40" fill="#717100" opacity=".5"/><ellipse cx="1944" cy="686" rx="53" ry="23" fill="#717100"/>
<ellipse cx="1930" cy="707" rx="22" ry="17" fill="#515100" opacity=".5"/><ellipse cx="1930" cy="707" rx="12" ry="9" fill="#515100"/>
<ellipse cx="2040" cy="676" rx="22" ry="17" fill="#4e4e00" opacity=".5"/><ellipse cx="2040" cy="676" rx="12" ry="9" fill="#4e4e00"/>
<ellipse cx="1875" cy="803" rx="58" ry="93" fill="#474700" opacity=".5"/><ellipse cx="1875" cy="803" rx="35" ry="58" fill="#474700"/>
<ellipse cx="1957" cy="865" rx="67" ry="58" fill="#4e4e00" opacity=".5"/><ellipse cx="1957" cy="865" rx="41" ry="35" fill="#4e4e00"/>
<ellipse cx="1995" cy="954" rx="33" ry="35" fill="#919100" opacity=".5"/><ellipse cx="1995" cy="954" rx="19" ry="20" fill="#919100"/>
<ellipse cx="1995" cy="954" rx="17" ry="17" fill="#a3a300" opacity=".5"/><ellipse cx="1995" cy="954" rx="8" ry="8" fill="#a3a300"/>
<ellipse cx="2026" cy="1002" rx="67" ry="40" fill="#6e6e00" opacity=".5"/><ellipse cx="2026" cy="1002" rx="41" ry="23" fill="#6e6e00"/>
<ellipse cx="2112" cy="961" rx="38" ry="120" fill="#494900" opacity=".5"/><ellipse cx="2112" cy="961" rx="22" ry="76" fill="#494900"/>
<polyline points="2081,810 2074,906 2081,1002 2108,1050 2143,988 2150,892 2133,837" fill="none" stroke="#757500" stroke-width="15" stroke-linecap="round" stroke-linejoin="round"/>
<ellipse cx="2218" cy="906" rx="49" ry="58" fill="#4e4e00" opacity=".5"/><ellipse cx="2218" cy="906" rx="29" ry="35" fill="#4e4e00"/>
<ellipse cx="2287" cy="920" rx="31" ry="40" fill="#515100" opacity=".5"/><ellipse cx="2287" cy="920" rx="18" ry="23" fill="#515100"/>
<ellipse cx="2205" cy="803" rx="35" ry="31" fill="#717100" opacity=".5"/><ellipse cx="2205" cy="803" rx="20" ry="18" fill="#717100"/>
<ellipse cx="2026" cy="1098" rx="84" ry="111" fill="#434300" opacity=".5"/><ellipse cx="2026" cy="1098" rx="53" ry="70" fill="#434300"/>
<ellipse cx="2047" cy="1167" rx="38" ry="38" fill="#757500" opacity=".5"/><ellipse cx="2047" cy="1167" rx="22" ry="22" fill="#757500"/>
<ellipse cx="2040" cy="1050" rx="49" ry="31" fill="#6e6e00" opacity=".5"/><ellipse cx="2040" cy="1050" rx="29" ry="18" fill="#6e6e00"/>
<ellipse cx="2163" cy="1167" rx="35" ry="35" fill="#6e6e00" opacity=".5"/><ellipse cx="2163" cy="1167" rx="20" ry="20" fill="#6e6e00"/>
<ellipse cx="2328" cy="1098" rx="93" ry="75" fill="#505000" opacity=".5"/><ellipse cx="2328" cy="1098" rx="58" ry="47" fill="#505000"/>
<ellipse cx="2411" cy="1071" rx="31" ry="40" fill="#515100" opacity=".5"/><ellipse cx="2411" cy="1071" rx="18" ry="23" fill="#515100"/>
<ellipse cx="2191" cy="1339" rx="93" ry="58" fill="#717100" opacity=".5"/><ellipse cx="2191" cy="1339" rx="58" ry="35" fill="#717100"/>
<ellipse cx="2287" cy="1270" rx="84" ry="58" fill="#6e6e00" opacity=".5"/><ellipse cx="2287" cy="1270" rx="53" ry="35" fill="#6e6e00"/>
<ellipse cx="1861" cy="1339" rx="84" ry="67" fill="#515100" opacity=".5"/><ellipse cx="1861" cy="1339" rx="53" ry="41" fill="#515100"/>
<ellipse cx="1772" cy="1456" rx="40" ry="58" fill="#717100" opacity=".5"/><ellipse cx="1772" cy="1456" rx="23" ry="35" fill="#717100"/>
<ellipse cx="2480" cy="1208" rx="24" ry="49" fill="#9f9f00" opacity=".5" transform="rotate(20 2480 1208)"/><ellipse cx="2480" cy="1208" rx="13" ry="29" fill="#9f9f00" transform="rotate(20 2480 1208)"/>
<ellipse cx="2445" cy="1256" rx="75" ry="102" fill="#8a8a00" opacity=".5"/><ellipse cx="2445" cy="1256" rx="47" ry="64" fill="#8a8a00"/>
<ellipse cx="2562" cy="1050" rx="35" ry="44" fill="#989800" opacity=".5"/><ellipse cx="2562" cy="1050" rx="20" ry="26" fill="#989800"/>
<ellipse cx="2493" cy="1043" rx="49" ry="67" fill="#606000" opacity=".5"/><ellipse cx="2493" cy="1043" rx="29" ry="41" fill="#606000"/>
<ellipse cx="2699" cy="1023" rx="31" ry="40" fill="#555500" opacity=".5"/><ellipse cx="2699" cy="1023" rx="18" ry="23" fill="#555500"/>
<ellipse cx="2603" cy="1277" rx="102" ry="71" fill="#4a4a00" opacity=".5"/><ellipse cx="2603" cy="1277" rx="64" ry="44" fill="#4a4a00"/>
<ellipse cx="2589" cy="1421" rx="138" ry="67" fill="#535300" opacity=".5"/><ellipse cx="2589" cy="1421" rx="88" ry="41" fill="#535300"/>
<ellipse cx="2699" cy="1325" rx="20" ry="31" fill="#a6a600" opacity=".5"/><ellipse cx="2699" cy="1325" rx="11" ry="18" fill="#a6a600"/>
<ellipse cx="2706" cy="789" rx="44" ry="58" fill="#8e8e00" opacity=".5"/><ellipse cx="2706" cy="789" rx="26" ry="35" fill="#8e8e00"/>
<ellipse cx="2596" cy="920" rx="31" ry="26" fill="#959500" opacity=".5"/><ellipse cx="2596" cy="920" rx="18" ry="15" fill="#959500"/>
<ellipse cx="2631" cy="954" rx="40" ry="26" fill="#606000" opacity=".5"/><ellipse cx="2631" cy="954" rx="23" ry="15" fill="#606000"/>
<ellipse cx="2748" cy="762" rx="26" ry="44" fill="#919100" opacity=".5"/><ellipse cx="2748" cy="762" rx="15" ry="26" fill="#919100"/>
<ellipse cx="2823" cy="755" rx="24" ry="35" fill="#a6a600" opacity=".5"/><ellipse cx="2823" cy="755" rx="13" ry="20" fill="#a6a600"/>
<ellipse cx="2899" cy="576" rx="58" ry="67" fill="#535300" opacity=".5"/><ellipse cx="2899" cy="576" rx="35" ry="41" fill="#535300"/>
<ellipse cx="2926" cy="707" rx="40" ry="40" fill="#555500" opacity=".5"/><ellipse cx="2926" cy="707" rx="23" ry="23" fill="#555500"/>
<ellipse cx="2892" cy="923" rx="26" ry="22" fill="#515100" opacity=".5"/><ellipse cx="2892" cy="923" rx="15" ry="12" fill="#515100"/>
<ellipse cx="2871" cy="865" rx="31" ry="31" fill="#8a8a00" opacity=".5"/><ellipse cx="2871" cy="865" rx="18" ry="18" fill="#8a8a00"/>
<ellipse cx="411" cy="1467" rx="20" ry="20" fill="#c3c300" opacity=".5"/><ellipse cx="411" cy="1467" rx="10" ry="10" fill="#c3c300"/>
<polyline points="377,1412 423,1415" fill="none" stroke="#b8b800" stroke-width="30" stroke-linecap="round" stroke-linejoin="round"/>
<polyline points="462,1470 458,1505" fill="none" stroke="#b1b100" stroke-width="34" stroke-linecap="round" stroke-linejoin="round"/>
<ellipse cx="2080" cy="1835" rx="16" ry="27" fill="#353500" opacity=".5"/><ellipse cx="2080" cy="1835" rx="8" ry="15" fill="#353500"/>
<path d="M2896 947L2898 949L2900 950L2951 940L2954 938L2955 935L2955 904L2953 901L2948 900L2949 889L2947 884L2943 881L2939 881L2924 887L2912 884L2903 871L2891 859L2896 855L2898 852L2901 840L2901 835L2899 831L2896 829L2892 829L2884 829L2882 828L2886 818L2887 801L2896 792L2898 789L2898 785L2897 777L2908 770L2909 766L2912 754L2926 751L2944 737L2946 732L2946 722L2950 721L2957 714L2979 707L2982 703L2985 695L2994 692L3002 681L3014 678L3017 676L3019 672L3023 655L3022 650L3005 629L3000 627L2993 626L2990 615L2988 611L2967 597L2944 523L2942 520L2939 517L2910 505L2903 506L2887 517L2883 512L2878 510L2864 510L2860 512L2858 515L2840 559L2839 588L2833 618L2833 621L2839 634L2833 654L2817 678L2798 694L2693 720L2660 728L2654 728L2651 730L2634 744L2614 774L2607 788L2594 801L2591 805L2588 814L2588 819L2590 823L2593 825L2604 826L2605 830L2602 840L2602 845L2593 849L2583 863L2554 872L2547 867L2543 867L2510 869L2476 883L2473 886L2472 890L2472 895L2475 900L2474 904L2474 909L2478 913L2491 917L2491 918L2482 931L2472 944L2455 959L2423 980L2390 999L2364 1021L2339 1030L2317 1027L2303 1019L2319 983L2322 970L2332 967L2335 963L2336 960L2338 935L2319 870L2317 868L2314 865L2296 860L2291 861L2272 874L2281 863L2286 831L2279 798L2277 794L2257 775L2234 766L2267 758L2269 756L2271 752L2271 748L2269 744L2262 737L2259 735L2229 732L2220 716L2215 712L2211 712L2193 714L2189 714L2191 703L2191 700L2188 695L2183 693L2180 693L2121 708L2099 727L2077 723L2059 702L2041 697L2047 691L2066 674L2068 669L2067 663L2066 660L2063 656L2032 634L2025 619L2020 615L2015 615L1996 621L1981 633L1955 634L1949 630L1944 629L1923 632L1915 622L1909 620L1904 621L1890 631L1874 632L1862 622L1859 620L1854 620L1845 623L1837 612L1815 602L1812 602L1796 604L1784 607L1780 604L1749 593L1741 563L1740 559L1735 556L1717 552L1710 554L1707 558L1706 577L1673 577L1673 579L1587 578L1457 574L1328 565L1200 552L1114 541L1029 528L944 514L859 498L774 480L649 450L565 428L566 425L530 414L512 406L508 405L504 405L492 412L489 415L477 439L478 456L461 449L447 439L433 426L429 426L426 426L422 428L420 431L416 472L419 507L414 534L417 562L407 594L402 630L385 669L364 713L342 752L323 779L316 829L318 846L308 900L291 924L281 940L281 944L284 963L293 980L296 1001L288 1018L286 1048L296 1072L305 1087L307 1100L307 1106L300 1113L299 1116L299 1120L300 1123L303 1126L306 1127L313 1128L317 1133L321 1135L319 1141L318 1155L321 1165L317 1170L317 1175L326 1196L334 1204L340 1207L330 1217L328 1220L328 1242L338 1271L352 1300L369 1337L363 1364L363 1368L367 1381L371 1385L395 1391L417 1399L400 1395L375 1397L372 1399L369 1401L368 1405L368 1409L373 1422L375 1425L378 1427L395 1430L423 1429L426 1427L429 1425L431 1416L447 1432L465 1437L470 1456L454 1457L449 1460L447 1463L447 1467L449 1479L451 1483L443 1486L440 1491L440 1496L447 1519L450 1522L453 1525L458 1525L469 1520L472 1516L473 1510L468 1493L471 1493L475 1492L484 1485L486 1482L487 1478L486 1475L478 1460L483 1460L502 1485L513 1508L516 1546L517 1550L520 1553L524 1554L642 1568L640 1572L640 1575L641 1579L644 1582L837 1695L998 1718L1003 1717L1007 1713L1010 1690L1090 1700L1148 1767L1169 1784L1179 1813L1182 1839L1184 1843L1204 1862L1226 1880L1257 1900L1259 1901L1263 1901L1278 1895L1298 1871L1305 1851L1321 1845L1353 1853L1372 1860L1381 1876L1403 1900L1413 1932L1429 1959L1443 1981L1446 1984L1464 1996L1464 2016L1475 2042L1487 2073L1490 2076L1516 2090L1545 2102L1583 2112L1610 2109L1615 2107L1618 2103L1618 2097L1610 2068L1600 2041L1603 2016L1617 1989L1633 1972L1658 1951L1683 1940L1721 1918L1740 1895L1763 1879L1783 1875L1799 1866L1811 1862L1838 1860L1862 1868L1891 1875L1894 1875L1907 1871L1932 1875L1937 1885L1940 1888L1972 1901L2011 1902L2030 1893L2046 1890L2047 1892L2048 1904L2051 1907L2091 1902L2094 1899L2100 1856L2102 1810L2110 1808L2118 1809L2125 1810L2133 1815L2139 1815L2170 1802L2196 1792L2223 1793L2253 1805L2275 1821L2279 1832L2283 1835L2287 1835L2313 1829L2351 1801L2366 1806L2387 1825L2410 1845L2434 1855L2442 1872L2437 1915L2437 1920L2456 1952L2478 1979L2487 2001L2505 2020L2518 2047L2524 2050L2550 2054L2559 2079L2562 2084L2582 2091L2596 2089L2598 2094L2565 2101L2530 2119L2529 2121L2531 2133L2542 2140L2576 2127L2594 2118L2608 2108L2608 2101L2612 2101L2616 2098L2628 2077L2629 2074L2629 2069L2625 2062L2631 2038L2633 2005L2629 1964L2628 1961L2614 1938L2570 1858L2548 1822L2521 1774L2504 1740L2503 1725L2513 1648L2525 1629L2547 1603L2600 1558L2610 1534L2628 1506L2654 1496L2658 1493L2660 1488L2660 1470L2670 1448L2681 1431L2719 1441L2725 1440L2730 1436L2737 1415L2746 1402L2750 1396L2768 1387L2771 1384L2772 1380L2774 1363L2767 1341L2751 1320L2740 1289L2726 1267L2727 1263L2729 1243L2733 1221L2740 1203L2749 1187L2750 1183L2752 1163L2746 1139L2750 1135L2753 1120L2769 1097L2776 1075L2776 1072L2773 1065L2778 1050L2778 1047L2771 1024L2798 1015L2838 991L2854 977L2869 961L2871 958L2871 954L2875 953L2877 951L2892 927ZM2082 1806L2079 1806L2081 1805ZM2814 964L2812 965L2803 967L2805 966ZM2262 888L2264 883L2269 877ZM401 1477L404 1479L420 1477L422 1476L423 1474L420 1457L418 1456L402 1456L400 1457L399 1459Z" fill="#00f" fill-rule="evenodd" style="mix-blend-mode:lighten"/>
</g>
<g fill="none" stroke="#000" stroke-width="7.2" stroke-linejoin="miter" stroke-miterlimit="3">
<path d="M489 470L474 465L456 457L441 446L429 435L425 472L429 508L423 534L427 563L416 596L411 633L394 673L372 717L350 757L332 783L330 801L325 830L328 846L325 860L317 904L299 929L290 944L293 960L302 977L306 1003L297 1021L295 1047L305 1068L314 1084L317 1099L316 1111L308 1118L317 1118L324 1126L333 1131L328 1143L327 1155L332 1167L326 1173L334 1190L340 1197L351 1199L353 1208L337 1223L337 1241L346 1267L361 1296L372 1322L379 1336L372 1366L376 1377L398 1382L423 1391L438 1410L452 1424L473 1429L478 1451L488 1451L510 1480L522 1506L525 1545L657 1560L649 1574L840 1686L952 1703L998 1709L1002 1679L1095 1691L1111 1709L1133 1734L1155 1760L1177 1778L1188 1811L1191 1837L1210 1855L1232 1873L1261 1892L1272 1888L1290 1866L1297 1844L1320 1835L1356 1844L1378 1852L1389 1870L1411 1895L1422 1928L1437 1954L1451 1976L1473 1991L1473 2013L1484 2038L1495 2068L1521 2082L1547 2093L1585 2103L1609 2100L1601 2071L1590 2042L1594 2013L1609 1983L1627 1965L1653 1943L1678 1932L1715 1910L1733 1888L1759 1870L1780 1866L1795 1857L1809 1853L1839 1850L1864 1859L1892 1866L1906 1861L1938 1866L1945 1880L1974 1892L2009 1893L2027 1884L2049 1880L2063 1895L2084 1880L2070 1858L2060 1830L2042 1811L2055 1802L2082 1795L2095 1802L2110 1798L2119 1800L2128 1800L2137 1806L2166 1793L2195 1782L2225 1784L2258 1797L2283 1815L2287 1826L2309 1820L2331 1804L2349 1791L2371 1797L2393 1818L2415 1837L2441 1848L2452 1870L2448 1903L2446 1916L2464 1947L2486 1974L2495 1996L2513 2014L2526 2041L2557 2045L2568 2076L2584 2082L2602 2078L2608 2092L2620 2072L2615 2063L2622 2036L2624 2005L2620 1965L2606 1943L2584 1903L2562 1863L2540 1827L2513 1778L2495 1743L2493 1725L2498 1690L2504 1645L2517 1623L2540 1596L2571 1570L2593 1552L2602 1530L2622 1498L2651 1487L2651 1468L2662 1443L2677 1420L2692 1425L2721 1432L2728 1410L2739 1396L2743 1389L2763 1379L2765 1364L2758 1344L2743 1325L2731 1293L2718 1272 M2714 1268L2718 1261L2720 1242L2724 1219L2731 1199L2741 1182L2743 1164L2737 1142L2721 1128L2703 1110L2690 1100L2688 1089L2695 1084L2705 1098L2728 1113 M2741 1131L2744 1116L2752 1104L2760 1093L2767 1074L2763 1066L2769 1048L2763 1030L2746 1027L2765 990L2772 967 M2765 983L2779 985L2794 979L2816 974L2832 964L2845 957L2862 955L2847 970L2832 983L2813 995L2794 1006L2763 1017 M2772 967L2765 983L2782 970L2801 957L2832 951L2850 948L2870 945L2877 934L2885 920L2900 905L2906 905L2925 912L2938 905L2940 890L2925 897L2906 892L2896 877L2887 867L2883 875L2873 869L2877 858L2889 848L2892 838L2881 839L2870 831L2877 816L2878 797L2889 786L2886 772L2900 764L2904 746L2922 742L2937 731L2934 690L2939 702L2945 713L2952 706L2974 699L2977 688L2988 684L2996 673L3010 669L3014 655L2998 636L2985 636L2981 618L2959 603L2935 526L2908 514L2882 532L2877 519L2866 519L2849 560L2848 589L2842 618L2849 633L2842 658L2824 684L2803 702L2767 712L2731 721L2695 729L2659 738L2657 737L2641 750L2622 779L2615 794L2600 808L2597 816L2611 816L2615 830L2611 841L2617 849L2600 856L2589 871L2553 882L2543 876L2512 878L2481 891L2487 900L2483 905L2499 909L2501 920L2490 937L2479 951L2461 967L2428 988L2395 1007L2369 1029L2340 1040L2314 1036L2296 1026L2288 1023L2294 1015L2300 1003L2307 985L2310 980L2314 962L2327 959L2329 937L2318 900L2310 874L2296 869L2277 882L2263 904L2250 896L2255 878L2272 860L2277 830L2270 801L2252 783L2223 772L2193 756L2205 757L2230 757L2262 750L2256 744L2223 741L2212 721L2193 724L2177 722L2182 702L2150 710L2124 717L2102 737L2087 734L2072 732L2054 710L2036 706L2019 717L2025 702L2040 684L2058 669 M489 470L504 462L512 450L522 438L522 426L526 423L568 435L609 446L651 457L693 468L735 478L776 487L819 496L861 505L903 513L945 521L988 528L1030 536L1073 542L1115 548L1158 554L1201 559L1243 564L1286 568L1329 572L1372 575L1415 578L1458 581L1501 583L1544 584L1587 586L1630 586L1673 586L1716 586L1716 562L1732 565L1737 585L1741 600L1758 607L1776 613L1783 618L1797 613L1812 611L1831 620L1842 635L1856 629L1871 642L1893 640L1909 629L1919 642L1944 638L1952 644L1985 642 M1985 642L1959 651L1926 664L1904 680L1882 706L1856 728L1844 737 M1844 737L1856 737L1886 726L1915 715L1913 730L1909 743L1925 739L1941 737L1944 748 M1941 737L1966 721L1988 711L2007 699L2021 684L2040 673L2056 668 M2193 756L2171 750L2160 750L2142 765L2120 774L2109 788L2091 785L2080 800L2069 819L2069 819L2061 841L2052 860L2060 850L2072 838L2083 820L2091 807L2091 807L2083 841L2076 874L2072 900L2067 937L2069 952L2076 974L2076 999L2083 1025L2090 1044L2090 1044L2110 1046L2127 1036L2142 1020L2149 996L2149 966L2138 937L2127 929L2135 911L2127 893L2131 867L2135 838L2149 823L2164 808L2168 838L2172 815L2179 794L2186 775L2193 756"/>
<path d="M768 485L731 650L730 678 M730 678L685 667L639 656L629 660L607 657L585 658L563 655L548 660L533 657L511 644L486 646L466 636L467 614L456 596L438 581L427 590L416 596 M730 678L735 688L746 702L731 732L713 754L695 772L691 783L705 794L698 809L695 814L668 934 M328 846L341 848L387 861L434 875L480 887L527 900L574 912L621 923L668 934L715 944L762 954L810 963L857 972L905 980L952 988 M528 900L478 1092L691 1413 M691 1413L694 1370L698 1344L705 1337L720 1338L727 1351L737 1344L737 1341L747 1289L809 963 M691 1413L693 1435L700 1450L709 1462L689 1473L680 1495L664 1517L662 1535L673 1546L657 1560 M747 1289L799 1298L851 1308L904 1316L956 1324L1009 1332L1061 1339L1114 1345L1167 1351L1220 1356L1273 1361L1326 1365L1379 1368L1432 1371L1485 1374L1538 1375L1591 1377L1644 1377L1697 1377L1750 1377 M942 1054L942 1054L990 1061L1039 1068L1088 1075L1137 1081L1186 1086L1234 1091L1284 1095L1332 1099L1382 1103 M1039 1068L952 1703 M810 495L796 559L804 585L801 600L823 629L837 651L856 662L848 684L839 710L830 732L839 737L859 722L865 743L872 776L885 794L892 823L918 816L940 816L962 814L973 810L978 827 M984 793L942 1054 M984 793L1029 800L1075 806L1121 813L1167 818L1214 823L1260 828L1306 832 M1328 572L1284 1095 M1311 771L1360 774L1409 778L1458 781L1506 783L1555 784L1604 786L1653 786 M1295 964L1339 967L1383 970L1427 973L1471 975L1515 977L1559 978L1570 988L1585 998L1589 989L1618 990L1640 996L1651 1007L1657 1013 M1382 1103L1365 1367 M1377 1169L1425 1172L1473 1174L1521 1176L1570 1177L1618 1178L1666 1178L1714 1178 M1655 948L1660 970L1652 990L1657 1013L1669 1040L1680 1076L1688 1113L1691 1139L1710 1168L1714 1178L1739 1192L1724 1208L1739 1223L1748 1238 M1748 1238L1751 1410L1762 1483L1761 1599 M1315 1364L1313 1397L1313 1397L1365 1401L1417 1404L1470 1406L1470 1406L1464 1535L1481 1544L1503 1546L1510 1558L1539 1568L1561 1566L1576 1580L1605 1580L1620 1593L1649 1586L1664 1595L1693 1582L1722 1579L1744 1595L1770 1600L1785 1605 M1311 1397L1289 1694L1288 1694L1239 1690L1189 1686L1140 1681L1091 1676L1095 1691 M1095 1691L1095 1691L1048 1685L1002 1679 M1785 1605L1788 1707L1803 1720L1818 1749L1821 1775L1807 1804L1810 1830L1803 1855 M1786 1641L1838 1640L1891 1638L1943 1636 M1751 1410L1809 1409L1868 1407L1926 1404L1985 1401L1994 1413L1977 1428L1973 1439L2010 1433 M1658 947L1707 947L1757 946L1806 945L1856 943L1905 941 M1658 947L1658 828L1647 820L1642 805L1653 786L1651 754L1645 717L1644 680L1633 636L1625 586 M1690 1140L1740 1140L1790 1139L1840 1137L1890 1135L1904 1142L1906 1153 M1844 737L1853 779L1834 786L1823 805L1832 819L1827 841L1831 863L1856 878L1871 889L1882 904L1900 915L1905 941L1915 955L1911 974L1922 996L1937 1006L1948 1021L1964 1032L1962 1051L1951 1065L1922 1076L1918 1091L1929 1102L1922 1120L1907 1135L1904 1157L1907 1179L1922 1201L1944 1219L1951 1237L1962 1241L1977 1245L1977 1259L1970 1281L1984 1300L2003 1311L2017 1325L2019 1347L2028 1358L2036 1364 M2036 1364L2039 1369L2032 1388L2017 1399L2014 1421L2010 1433L2014 1443L2003 1461L1995 1479L1983 1501L1983 1504L1972 1536L1953 1558L1946 1584L1942 1610L1943 1636L1953 1661L1961 1679L1950 1705L1932 1723L1928 1749L1924 1769 M1924 1769L1977 1766L2030 1763L2029 1778L2038 1796L2043 1811 M1937 1006L1982 1003L2028 1000L2073 996 M1944 748L1970 755L2003 761L2039 772L2054 786L2072 792L2058 797L2063 810L2069 819 M2090 1044L2104 1203L2111 1230L2105 1256L2091 1281L2082 1303 M2036 1364L2047 1347L2065 1336L2083 1325L2082 1303L2105 1301L2113 1292L2138 1303L2149 1290L2160 1298L2171 1276L2190 1283L2200 1259L2215 1234L2237 1223L2242 1205L2263 1201L2277 1219L2303 1230L2318 1223L2343 1215L2358 1232L2366 1234 M2222 1034L2242 1205 M2116 1041L2169 1036L2221 1030L2222 1034L2288 1024 M2366 1234L2378 1219L2384 1193L2399 1186L2410 1160L2428 1149L2442 1127L2441 1100L2440 1074 M2426 986L2450 1134 M2450 1134L2497 1126L2544 1118L2590 1109L2637 1100L2683 1090L2696 1090 M2459 961L2462 979L2515 970L2567 960L2619 949L2671 938L2688 946L2695 963L2714 972 M2714 972L2703 999L2701 1021L2714 1036L2734 1049L2721 1065L2703 1076L2690 1085L2696 1090 M2714 972L2765 990 M2683 1090L2701 1172L2705 1171L2737 1163 M2366 1234L2362 1252L2384 1278L2399 1296 M2399 1296L2421 1307L2446 1300L2472 1285L2486 1267L2497 1237L2512 1208L2527 1208L2538 1186L2556 1164L2567 1142L2571 1131 M2571 1131L2556 1124L2534 1138L2510 1157L2508 1159L2502 1125 M2571 1131L2593 1142L2611 1149L2640 1157L2630 1186L2651 1193L2673 1208 M2399 1296L2369 1325L2351 1347L2325 1358 M2019 1399L2032 1397L2100 1393L2100 1382L2107 1386L2160 1381L2213 1375L2266 1369L2318 1363L2371 1355L2424 1348L2474 1343L2524 1335L2574 1326L2624 1316L2674 1307L2723 1296 M1983 1501L2037 1497L2092 1493L2147 1488L2201 1483L2256 1477L2310 1471L2364 1464 M2300 1472L2310 1443L2332 1424L2369 1402L2388 1395L2413 1380L2428 1358L2424 1348 M2364 1464L2406 1446L2440 1440L2475 1437L2490 1453L2552 1446L2622 1498 M2364 1464L2355 1483L2384 1501L2411 1534L2446 1561L2477 1592L2495 1614L2504 1645 M2094 1493L2100 1499L2096 1672L2109 1803 M2232 1480L2271 1617L2294 1646L2287 1657L2283 1683L2290 1720L2301 1745L2295 1739 M2166 1786L2162 1771L2150 1754L2150 1754L2198 1749L2247 1744L2295 1739L2307 1756L2305 1757L2455 1746L2463 1760L2472 1756L2465 1727L2485 1727L2494 1722 M2720 723L2725 728L2734 768L2732 783L2747 816L2756 838L2763 867L2760 911L2767 951L2772 967 M2763 867L2805 856L2850 845L2871 834 M2760 911L2809 902L2858 890L2871 918 M2839 896L2851 941 M2809 700L2807 731L2794 753L2791 805L2793 856 M2824 684L2871 812L2877 816" stroke-width="7"/>
<path d="M1583 2012L1581 2042L1591 2071L1599 2100" stroke-width="5"/>
<path d="M2036 1364L2039 1369L2032 1388L2017 1399L2014 1421L2010 1433L2014 1443L2003 1461L1995 1479L1983 1501L1983 1504L1972 1536L1953 1558L1946 1584L1942 1610L1943 1636L1953 1661L1961 1679L1950 1705L1932 1723L1928 1749L1924 1769" stroke-width="9"/>
<path d="M1962 1051L1951 1065L1922 1076L1918 1091L1929 1102L1922 1120L1907 1135L1904 1157L1907 1179L1922 1201L1944 1219L1951 1237L1962 1241L1977 1245L1977 1259L1970 1281L1984 1300L2003 1311L2017 1325L2019 1347L2028 1358L2036 1364" stroke-width="8"/>
<path d="M2036 1364L2047 1347L2065 1336L2083 1325L2082 1303L2105 1301L2113 1292L2138 1303L2149 1290L2160 1298L2171 1276L2190 1283L2200 1259L2215 1234L2237 1223L2242 1205" stroke-width="8"/>
<path d="M2571 1131L2588 1140L2603 1136L2616 1146L2635 1150L2645 1155L2630 1170L2626 1191L2645 1187L2662 1200L2680 1208" stroke-width="9"/>
<path d="M2662 1163L2671 1180L2686 1199L2690 1225L2688 1242L2695 1257L2688 1272L2688 1296" stroke-width="14"/>
<path d="M2690 1232L2650 1215" stroke-width="6"/>
<path d="M2690 1255L2655 1245" stroke-width="6"/>
<path d="M2690 1278L2655 1268" stroke-width="6"/>
<path d="M2688 1310L2650 1305" stroke-width="6"/>
<path d="M2690 1172L2707 1180L2695 1195L2703 1208L2697 1230L2706 1250L2712 1268" stroke-width="7"/>
<path d="M2709 1334L2741 1334L2748 1357L2737 1364L2731 1378L2714 1376L2699 1368L2660 1368" stroke-width="7"/>
<path d="M2680 1400L2692 1404L2709 1387L2722 1400L2728 1413L2722 1430L2709 1421L2692 1421L2680 1408" stroke-width="8"/>
<path d="M1994 1817L2000 1806L2012 1804L2024 1810L2027 1820L2018 1828L2003 1828L1994 1817" stroke-width="7"/>
<path d="M1824 1780L1809 1798L1804 1816L1813 1835L1798 1840L1795 1857" stroke-width="9"/>
<path d="M2904 891L2904 875L2921 870L2932 879L2938 896L2925 903L2910 909" stroke-width="9"/>
</g>
<path d="M520 422L521 437L526 446L524 453L515 455L510 460L504 474L495 492L486 506L473 524L473 541L481 548L492 548L503 541L517 535L519 524L517 513L528 499L534 490L529 477L531 460L537 455L532 444L528 431L528 424Z M501 438L510 448L508 457L500 455L496 446Z M425 524L457 540L432 546L442 556L432 566L437 578L424 578Z M1981 651L2014 629L2017 636L1990 655Z M377 1406L400 1404L423 1410L421 1420L395 1421L381 1418Z M456 1466L470 1465L478 1478L470 1484L458 1478Z M449 1493L458 1490L464 1512L456 1516Z M334 1114L353 1107L355 1118L367 1118L371 1123L379 1122L380 1125L397 1122L388 1131L388 1137L377 1137L365 1132L353 1130L347 1131L347 1141L352 1145L352 1158L367 1171L346 1167L336 1158L332 1152L327 1143L333 1131Z M2676 1099L2686 1108L2688 1133L2686 1161L2677 1170L2667 1163L2662 1144L2667 1118Z M2688 1293L2718 1272L2731 1293L2743 1325L2731 1336L2712 1332L2714 1312L2700 1300L2697 1349L2684 1353L2688 1336L2682 1321L2662 1315L2688 1312Z M2862 896L2871 903L2885 913L2877 930L2870 941L2868 926L2864 911Z M2904 911L2913 919L2923 924L2911 928L2908 943L2902 932L2894 926L2902 920Z M2930 905L2944 917L2947 924L2938 930L2926 926L2928 920L2934 919Z M2816 977L2832 957L2862 955L2847 972L2832 985L2813 998L2796 1008L2796 1000L2813 989Z M2763 983L2771 991L2767 1002L2763 1017L2760 1025L2746 1027L2745 1021L2756 991Z M2738 1118L2748 1114L2745 1133L2736 1132Z M1892 1850L1908 1842L1921 1841L1936 1844L1932 1853L1941 1859L1937 1866L1926 1870L1915 1868L1906 1862L1897 1859Z M1945 1879L1961 1862L1963 1872L1981 1873L1980 1855L1989 1873L2005 1868L2016 1848L2025 1859L2024 1875L2027 1884L2009 1894L2007 1886L1992 1890L1974 1893L1969 1890L1952 1886L1938 1896Z M2025 1813L2040 1809L2046 1818L2058 1818L2044 1824L2066 1829L2055 1835L2068 1840L2053 1846L2063 1856L2051 1859L2062 1864L2073 1864L2078 1872L2089 1871L2084 1879L2084 1904L2073 1890L2044 1922L2058 1890L2055 1879L2044 1875L2036 1866L2022 1850L2036 1850L2022 1843L2036 1840L2033 1833L2025 1828Z M2126 1802L2132 1778L2137 1802Z M2452 1922L2470 1925L2472 1948L2462 1958L2443 1972L2457 1945L2438 1915L2455 1935Z M2490 1985L2507 1985L2512 2020L2498 2010Z M1730 1845L1745 1862L1755 1855L1757 1868L1738 1880L1744 1868Z M1628 1945L1645 1930L1660 1918L1682 1885L1670 1928L1655 1940L1642 1955Z M1555 2010L1575 2004L1578 1990L1590 2006L1596 2018L1584 2024L1576 2014Z M1594 1968L1612 1962L1612 1974L1600 1982Z M2566 2072L2590 2070L2588 2088L2570 2090Z M2552 1842L2580 1870L2570 1885Z M2928 669L2942 700L2938 735L2925 742L2930 710Z M2490 1716L2520 1726L2492 1722Z M2496 1660L2470 1640L2500 1652Z M2540 1596L2525 1575L2548 1588Z M2620 1498L2606 1470L2630 1490Z M2590 1548L2605 1530L2600 1556Z M2455 1905L2428 1888L2452 1915Z M2462 1962L2435 1985L2452 1958Z M1785 1600L1800 1585L1792 1605Z M1695 1582L1700 1568L1704 1582Z M1722 1579L1730 1565L1732 1582Z M1205 1860L1218 1850L1214 1866Z M1378 1852L1392 1838L1388 1858Z M1649 1007L1625 1000L1648 1013Z M1728 1186L1705 1192L1727 1193Z M1640 1930L1655 1895L1650 1935Z" fill="#000" stroke="#000" stroke-width="3" stroke-linejoin="round"/>
<g font-weight="bold" font-size="112" text-anchor="middle">
<text x="1650.3" y="275" textLength="2396.5" lengthAdjust="spacingAndGlyphs">Monthly Spatial DNI COV (%) in 5x5 Cell Matrix</text>
<text x="1648" y="401" textLength="1351" lengthAdjust="spacingAndGlyphs">Average of July 1998-2005</text>
</g>
<text x="150" y="1666.5" font-size="50" font-weight="bold" textLength="304" lengthAdjust="spacingAndGlyphs">DNI COV (%)</text>
<rect x="156" y="1694.5" width="118" height="60.5" fill="#ff0099"/><text x="294.2" y="1736.7" font-size="52.7">0.36 - 0.5</text>
<rect x="156" y="1758.9" width="118" height="60.5" fill="#ff00ff"/><text x="294.2" y="1801.1" font-size="52.7">0.5 - 1.0</text>
<rect x="156" y="1823.4" width="118" height="60.5" fill="#aa00ff"/><text x="294.2" y="1865.6" font-size="52.7">1.0 - 1.5</text>
<rect x="156" y="1887.8" width="118" height="60.5" fill="#00b4ff"/><text x="294.2" y="1930.0" font-size="52.7">1.5 - 2.0</text>
<rect x="156" y="1952.2" width="118" height="60.5" fill="#00ffe6"/><text x="294.2" y="1994.4" font-size="52.7">2 - 4</text>
<rect x="156" y="2016.7" width="118" height="60.5" fill="#00ff90"/><text x="294.2" y="2058.8" font-size="52.7">4 - 6</text>
<rect x="156" y="2081.1" width="118" height="60.5" fill="#00ff00"/><text x="294.2" y="2123.3" font-size="52.7">6 - 8</text>
<rect x="156" y="2145.5" width="118" height="60.5" fill="#99ff00"/><text x="294.2" y="2187.7" font-size="52.7">8 - 12</text>
<rect x="156" y="2209.9" width="118" height="60.5" fill="#ffb400"/><text x="294.2" y="2252.1" font-size="52.7">12 -16</text>
<rect x="156" y="2274.4" width="118" height="60.5" fill="#ff5a00"/><text x="294.2" y="2316.6" font-size="52.7">16 - 20</text>
<rect x="156" y="2338.8" width="118" height="60.5" fill="#ff0000"/><text x="294.2" y="2381.0" font-size="52.7">> 20</text>

<text x="3107.5" y="2490" font-size="14.8" textLength="132.5" lengthAdjust="spacingAndGlyphs">11-FEB-2010 1.1.37</text>
</svg>
</body></html>
